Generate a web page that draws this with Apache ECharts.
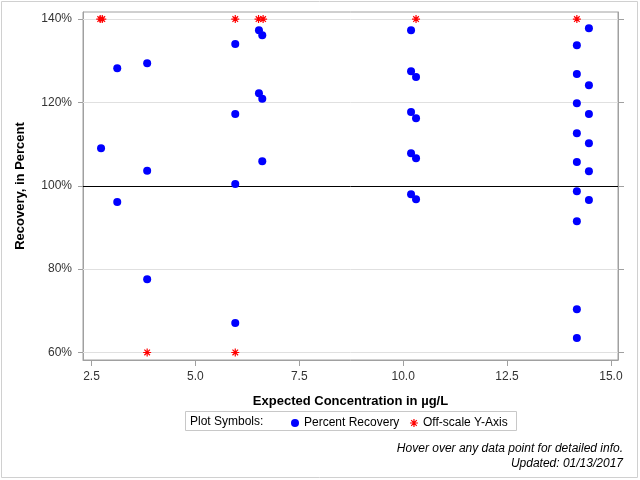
<!DOCTYPE html>
<html>
<head>
<meta charset="utf-8">
<script src="https://cdn.jsdelivr.net/npm/echarts@6/dist/echarts.min.js"></script>
<style>
  html, body { margin: 0; padding: 0; background: #fff; }
  #chart { width: 640px; height: 480px; }
</style>
</head>
<body>
<div id="chart"></div>
<script>
// 数据：期望浓度 (µg/L) 与回收率 (%)
var recoveryX = [2.73,
  3.12, 3.12,
  3.84, 3.84, 3.84,
  5.96, 5.96, 5.96, 5.96,
  6.53, 6.53,
  6.61, 6.61, 6.61,
  10.19, 10.19, 10.19, 10.19, 10.19,
  10.31, 10.31, 10.31, 10.31,
  14.18, 14.18, 14.18, 14.18, 14.18, 14.18, 14.18, 14.18, 14.18,
  14.47, 14.47, 14.47, 14.47, 14.47, 14.47];
var recoveryY = [109.0,
  128.2, 96.1,
  129.4, 103.6, 77.6,
  134.0, 117.2, 100.4, 67.1,
  137.3, 122.2,
  136.1, 120.9, 105.9,
  137.3, 127.5, 117.7, 107.8, 98.0,
  126.1, 116.2, 106.6, 96.8,
  133.7, 126.8, 119.8, 112.6, 105.7, 98.7, 91.5, 70.4, 63.5,
  137.8, 124.1, 117.2, 110.2, 103.5, 96.6];

// 超出纵轴范围的点
var offscaleX = [2.71, 2.76, 3.84, 5.96, 5.96, 6.52, 6.63, 10.31, 14.18];
var offscaleY = [140, 140, 60, 140, 60, 140, 140, 140, 140];

var xTicks = [2.5, 5.0, 7.5, 10.0, 12.5, 15.0];
var yTicks = [60, 80, 100, 120, 140];

var recoveryData = recoveryX.map(function (x, i) { return [x, recoveryY[i]]; });
var offscaleData = offscaleX.map(function (x, i) { return [x, offscaleY[i]]; });

var starPath = 'path://M4 0L4 8M0 4L8 4M1.2 1.2L6.8 6.8M6.8 1.2L1.2 6.8';
var font = 'Liberation Sans, Arial, sans-serif';

var myChart = echarts.init(document.getElementById('chart'));

var option = {
    backgroundColor: '#fff',
    animation: false,
    grid: {
      left: 83, top: 12, right: 22, bottom: 120,
      show: true, borderColor: '#a0a0a0', borderWidth: 1
    },
    xAxis: {
      type: 'value',
      min: 2.296, max: 15.17,
      name: 'Expected Concentration in µg/L',
      nameLocation: 'middle',
      nameGap: 35,
      nameTextStyle: { fontFamily: font, fontSize: 13, fontWeight: 'bold', color: '#000' },
      axisLine: { show: true, onZero: false, lineStyle: { color: '#a0a0a0' } },
      axisTick: { show: true, length: 6, customValues: xTicks, lineStyle: { color: '#a0a0a0' } },
      axisLabel: {
        customValues: xTicks, margin: 11, color: '#333', fontFamily: font, fontSize: 12,
        formatter: function (v) { return v.toFixed(1); }
      },
      splitLine: { show: false }
    },
    yAxis: [{
      type: 'value',
      min: 58.2, max: 141.7,
      name: 'Recovery, in Percent',
      nameLocation: 'middle',
      nameGap: 56,
      nameTextStyle: { fontFamily: font, fontSize: 13, fontWeight: 'bold', color: '#000' },
      axisLine: { show: true, onZero: false, lineStyle: { color: '#a0a0a0' } },
      axisTick: { show: true, length: 5, customValues: yTicks, lineStyle: { color: '#a0a0a0' } },
      axisLabel: {
        customValues: yTicks, margin: 11, color: '#333', fontFamily: font, fontSize: 12,
        formatter: function (v) { return v + '%'; }
      },
      splitLine: { show: false }
    }, {
      type: 'value',
      position: 'right',
      min: 58.2, max: 141.7,
      axisLine: { show: true, onZero: false, lineStyle: { color: '#a0a0a0' } },
      axisTick: { show: true, length: 6, customValues: yTicks, lineStyle: { color: '#a0a0a0' } },
      axisLabel: { show: false },
      splitLine: { show: false }
    }],
    legend: {
      left: 286, top: 412,
      itemGap: 10,
      itemWidth: 8, itemHeight: 8,
      textStyle: { fontFamily: font, fontSize: 12, color: '#000' },
      data: [
        { name: 'Percent Recovery', icon: 'circle' },
        { name: 'Off-scale Y-Axis', icon: starPath, itemStyle: { color: 'red', borderColor: 'red', borderWidth: 1.2 } }
      ]
    },
    graphic: [
      { type: 'rect', shape: { x: 1.5, y: 1.5, width: 636, height: 476 },
        style: { fill: 'none', stroke: '#d0d0d0', lineWidth: 1 }, silent: true },
      { type: 'rect', shape: { x: 185.5, y: 411.5, width: 331, height: 19 },
        style: { fill: 'none', stroke: '#c8c8c8', lineWidth: 1 }, silent: true },
      { type: 'text', left: 190, top: 416,
        style: { text: 'Plot Symbols:', font: '12px ' + font, fill: '#000' } },
      { type: 'text', right: 17, top: 443,
        style: { text: 'Hover over any data point for detailed info.', font: 'italic 12px ' + font, fill: '#000' } },
      { type: 'text', right: 17, top: 458,
        style: { text: 'Updated: 01/13/2017', font: 'italic 12px ' + font, fill: '#000' } }
    ],
    series: [{
      name: 'grid lines',
      type: 'scatter',
      data: [],
      z: 1,
      silent: true,
      markLine: {
        silent: true,
        z: 1,
        symbol: 'none',
        label: { show: false },
        lineStyle: { color: '#e0e0e0', width: 1, type: 'solid' },
        data: [
          { yAxis: 60 }, { yAxis: 80 }, { yAxis: 120 }, { yAxis: 140 },
          { yAxis: 100, lineStyle: { color: '#000', width: 1, type: 'solid' } }
        ]
      }
    }, {
      name: 'Percent Recovery',
      type: 'scatter',
      z: 3,
      symbol: 'circle',
      symbolSize: 8,
      itemStyle: { color: '#0000ff', opacity: 1 },
      data: recoveryData
    }, {
      name: 'Off-scale Y-Axis',
      type: 'scatter',
      z: 4,
      symbol: starPath,
      symbolSize: 8,
      itemStyle: { color: 'red', borderColor: 'red', borderWidth: 1.2, opacity: 1 },
      data: offscaleData
    }]
};

myChart.setOption(option);
</script>
</body>
</html>
